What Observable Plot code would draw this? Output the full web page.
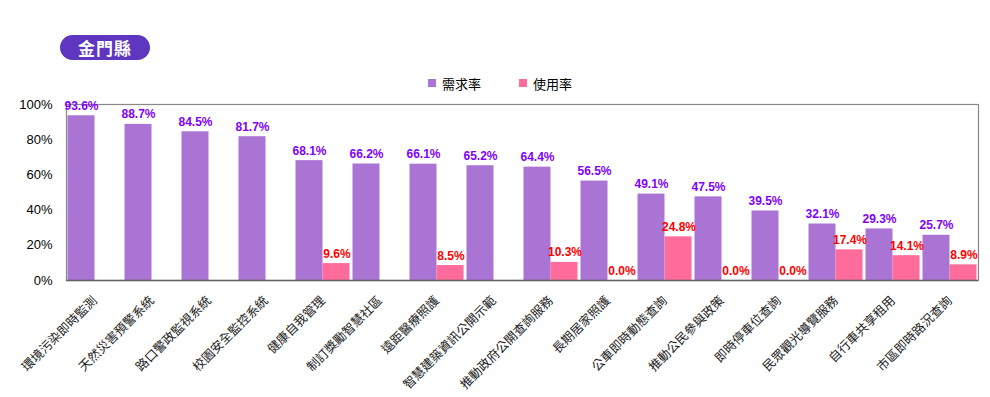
<!DOCTYPE html>
<html><head><meta charset="utf-8">
<script src="https://cdn.jsdelivr.net/npm/d3@7"></script>
<script src="https://cdn.jsdelivr.net/npm/@observablehq/plot@0.6"></script>
<style>
body{margin:0;background:#fff;font-family:"Noto Sans CJK TC","Liberation Sans",sans-serif;}
#head{position:relative;height:90px;width:990px;}
#badge{position:absolute;left:60px;top:35px;width:90px;height:25px;border-radius:13px;background:#5E36C0;color:#fff;font-weight:bold;font-size:17px;line-height:25px;text-align:center;letter-spacing:1px;}
#legend{position:absolute;top:74px;left:0;width:990px;font-size:13px;color:#000;}
.li{position:absolute;top:0;display:flex;align-items:center;height:18px;}
.sw{width:8px;height:8px;margin-right:6px;}
</style></head>
<body>
<div id="head"><div id="badge">金門縣</div>
<div id="legend"></div></div>
<div id="chart"></div>
<script>
const categories = ["環境污染即時監測","天然災害預警系統","路口警政監視系統","校園安全監控系統","健康自我管理","制訂獎勵智慧社區","遠距醫療照護","智慧建築資訊公開示範","推動政府公開查詢服務","長期居家照護","公車即時動態查詢","推動公民參與政策","即時停車位查詢","民眾觀光導覽服務","自行車共享租用","市區即時路況查詢"];
const demand = [93.6,88.7,84.5,81.7,68.1,66.2,66.1,65.2,64.4,56.5,49.1,47.5,39.5,32.1,29.3,25.7];
const usage = [null,null,null,null,9.6,null,8.5,null,10.3,0.0,24.8,0.0,0.0,17.4,14.1,8.9];
const seriesNames = ["需求率","使用率"];
const barColors = ["#A974D4","#FF6B9A"];
const labelColors = ["#7F00FF","#FF0000"];
const yTicks = [0,20,40,60,80,100];

const dData = categories.map((c,i)=>({cat:c, v:demand[i]}));
const uData = categories.map((c,i)=>({cat:c, v:usage[i]})).filter(d=>d.v!==null);

const leg = document.getElementById("legend");
[[428,0],[519,1]].forEach(([x,i])=>{
  const el=document.createElement("div");el.className="li";el.style.left=x+"px";
  el.innerHTML=`<div class="sw" style="background:${barColors[i]}"></div><span>${seriesNames[i]}</span>`;
  leg.appendChild(el);
});

const lblFont = "Liberation Sans, Arial, sans-serif";
const chart = Plot.plot({
  width: 990, height: 307,
  marginTop: 14, marginBottom: 117, marginLeft: 66, marginRight: 12,
  style: {fontFamily: "Noto Sans CJK TC, sans-serif", background: "#fff"},
  x: {domain: categories, padding: 0, label: null},
  y: {domain: [0,100], label: null},
  marks: [
    Plot.barY(dData, {x:"cat", y:"v", fill: barColors[0], insetLeft: 1.5, insetRight: 28.5}),
    Plot.barY(uData, {x:"cat", y:"v", fill: barColors[1], insetLeft: 28.5, insetRight: 1.5}),
    Plot.frame({stroke:"#888", strokeWidth: 1.2}),
    Plot.ruleY([0], {stroke:"#666", strokeWidth: 1.5}),
    Plot.text(dData, {x:"cat", y:"v", text: d=>d.v.toFixed(1)+"%", dx:-13.5, dy:-6, lineAnchor:"bottom", fill: labelColors[0], fontWeight:"bold", fontSize: 12, fontFamily: lblFont}),
    Plot.text(uData, {x:"cat", y:"v", text: d=>d.v.toFixed(1)+"%", dx:14, dy:-6, lineAnchor:"bottom", fill: labelColors[1], fontWeight:"bold", fontSize: 12, fontFamily: lblFont}),
    Plot.axisY({ticks: yTicks, tickFormat: d=>d+"%", tickSize: 0, tickPadding: 14, fontSize: 13, fontFamily: lblFont, color:"#000", label: null}),
    Plot.axisX({tickSize: 0, tickPadding: 18, tickRotate: -45, fontSize: 12.5, color:"#222", label: null})
  ]
});
document.getElementById("chart").appendChild(chart);
</script>
</body></html>
